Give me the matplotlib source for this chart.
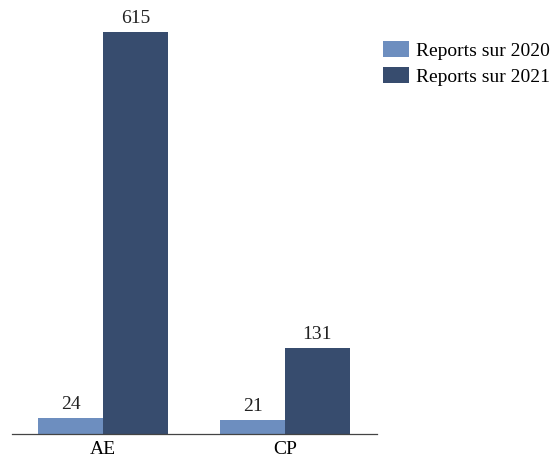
import matplotlib
matplotlib.use("Agg")
import matplotlib.pyplot as plt
import numpy as np

categories = ["AE", "CP"]
reports_2020 = [24, 21]
reports_2021 = [615, 131]
series_labels = ["Reports sur 2020", "Reports sur 2021"]
colors = ["#6d8ebf", "#374c6e"]

plt.rcParams['font.family'] = ['Liberation Serif', 'DejaVu Serif']

fig = plt.figure(figsize=(5.52, 4.62), dpi=100)
W, H = 552, 462
ax = fig.add_axes([12 / W, 28 / H, (377 - 12) / W, (434 - 9) / H])

x = np.arange(len(categories))
w = 0.355
b1 = ax.bar(x - w / 2, reports_2020, w, color=colors[0], label=series_labels[0])
b2 = ax.bar(x + w / 2, reports_2021, w, color=colors[1], label=series_labels[1])
for bars in (b1, b2):
    for r in bars:
        ax.text(r.get_x() + r.get_width() / 2, r.get_height() + 8, f"{int(r.get_height())}",
                ha="center", va="bottom", fontsize=14, color="#222222")

ax.set_xlim(-0.5, 1.505)
ax.set_ylim(0, 650)
ax.set_xticks(x)
ax.set_xticklabels(categories, fontsize=14)
ax.tick_params(axis="x", length=0, pad=5)
ax.set_yticks([])
for s in ("top", "right", "left"):
    ax.spines[s].set_visible(False)
ax.spines["bottom"].set_color("#444444")
ax.spines["bottom"].set_linewidth(0.9)

fig.legend(handles=[b1, b2], loc="upper left", bbox_to_anchor=(375 / W, 1 - 33 / H),
           borderaxespad=0, frameon=False, fontsize=14, handlelength=1.34, handleheight=0.9,
           handletextpad=0.36, labelspacing=0.4)

fig.savefig("out.png", dpi=100)
